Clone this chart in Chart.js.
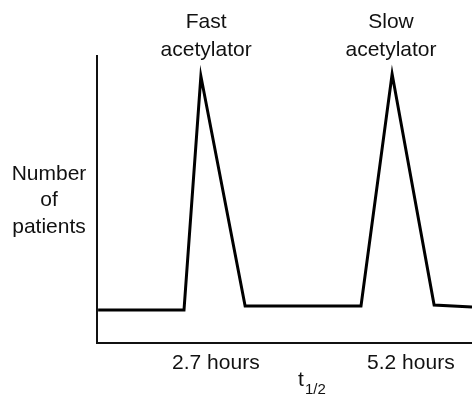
<!DOCTYPE html>
<html>
<head>
<meta charset="utf-8">
<script src="https://cdn.jsdelivr.net/npm/chart.js@4.4.1/dist/chart.umd.min.js"></script>
<style>
  html, body { margin: 0; padding: 0; background: #fff; }
  #wrap { width: 472px; height: 402px; }
</style>
</head>
<body>
<div id="wrap"><canvas id="c"></canvas></div>
<script>
// curve (x in % of the axis width, y in % of axis height)
const curveX = [0.3, 23.2, 27.7, 39.5, 70.4, 78.7, 89.9, 100];
const curveY = [11.5, 11.5, 93.0, 12.9, 12.9, 93.7, 13.2, 12.5];

// tick labels below the axis
const tickPos = [31.7, 83.7];
const tickLabels = ["2.7 hours", "5.2 hours"];

// peak labels above the curve
const peakPos = [29.1, 78.4];
const peakLabels = [["Fast", "acetylator"], ["Slow", "acetylator"]];

const yTitle = ["Number", "of", "patients"];
const FONT = "'Liberation Sans', Arial, Helvetica, sans-serif";
const INK = "#111";

// draws the free texts: peak names, y title, t1/2
const textPlugin = {
    id: "texts",
    afterDraw(chart) {
        const ctx = chart.ctx;
        const xs = chart.scales.x;
        ctx.save();
        ctx.fillStyle = INK;
        ctx.textAlign = "center";
        ctx.textBaseline = "middle";
        ctx.font = "21px " + FONT;
        peakPos.forEach((v, i) => {
            const px = xs.getPixelForValue(v);
            ctx.fillText(peakLabels[i][0], px, 22);
            ctx.fillText(peakLabels[i][1], px, 50);
        });
        yTitle.forEach((t, i) => ctx.fillText(t, 49, 174 + i * 26.5));
        // t with 1/2 subscript
        ctx.textAlign = "left";
        ctx.fillText("t", 298, 380);
        ctx.font = "15px " + FONT;
        ctx.fillText("1/2", 305, 390);
        ctx.restore();
    }
};

new Chart(document.getElementById("c"), {
    type: "line",
    data: {
        datasets: [{
            data: curveX.map((x, i) => ({ x, y: curveY[i] })),
            borderColor: "#000",
            borderWidth: 3,
            borderJoinStyle: "miter",
            pointRadius: 0,
            tension: 0,
            fill: false,
        }]
    },
    options: {
        responsive: true,
        maintainAspectRatio: false,
        animation: false,
        layout: { padding: { top: 56, right: 0, left: 0, bottom: 0 } },
        plugins: { legend: { display: false }, tooltip: { enabled: false } },
        scales: {
            x: {
                type: "linear",
                min: 0, max: 100,
                afterBuildTicks: s => { s.ticks = tickPos.map(v => ({ value: v })); },
                afterFit: s => { s.height = 59; },
                grid: { display: false, drawTicks: false },
                border: { display: true, color: INK, width: 2 },
                ticks: {
                    padding: 8,
                    color: INK,
                    font: { family: FONT, size: 21 },
                    maxRotation: 0,
                    callback: (v, i) => tickLabels[i],
                },
            },
            y: {
                min: 0, max: 100,
                afterFit: s => { s.width = 97; },
                grid: { display: false, drawTicks: false },
                border: { display: true, color: INK, width: 2 },
                ticks: { display: false },
            }
        }
    },
    plugins: [textPlugin]
});
</script>
</body>
</html>
